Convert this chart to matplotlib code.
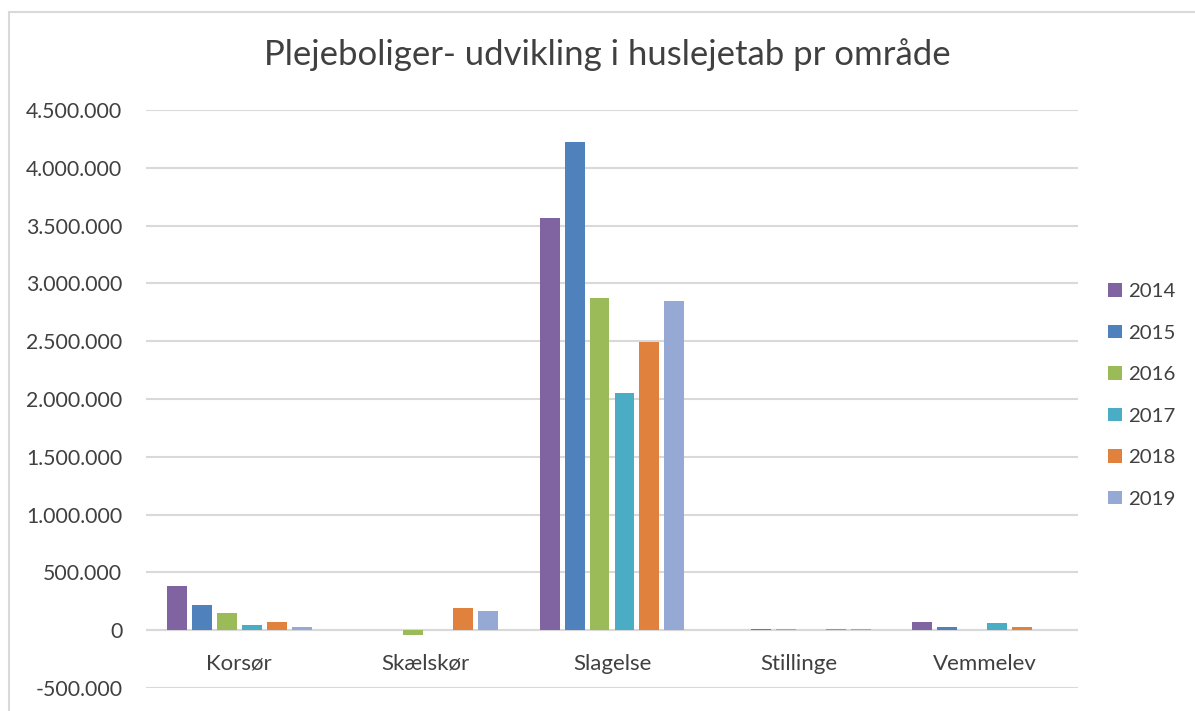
import matplotlib.pyplot as plt
from matplotlib.patches import Rectangle
from matplotlib.ticker import FuncFormatter, MultipleLocator
import numpy as np

plt.rcParams['font.family'] = ['Lato', 'DejaVu Sans']

omraader = ["Korsør", "Skælskør", "Slagelse", "Stillinge", "Vemmelev"]
aar = ["2014", "2015", "2016", "2017", "2018", "2019"]

# huslejetab pr område og år
v2014 = [380000, 0, 3565000, 0, 67000]
v2015 = [216000, 0, 4225000, 11000, 26000]
v2016 = [145000, -40000, 2870000, 10000, 0]
v2017 = [45000, 0, 2050000, 0, 60000]
v2018 = [67000, 196000, 2495000, 10000, 32000]
v2019 = [25000, 167000, 2845000, 8000, 0]
serier = [v2014, v2015, v2016, v2017, v2018, v2019]

farver = ["#8064A2", "#4F81BD", "#9BBB59", "#4BACC6", "#E0823D", "#95A9D4"]

fig = plt.figure(figsize=(11.95, 7.11), dpi=100)
ax = fig.add_axes([146 / 1195, 1 - 688 / 711, (1078 - 146) / 1195, (688 - 110) / 711])

# ramme om diagrammet
fig.patches.append(Rectangle((9 / 1195, -0.05), 1.1, 1 - 12 / 711 + 0.05,
                             transform=fig.transFigure, fill=False,
                             edgecolor="#d9d9d9", lw=1.5))

x = np.arange(len(omraader))
bredde = 0.107
afstand = 0.134
for j, (navn, vals) in enumerate(zip(aar, serier)):
    ax.bar(x + (j - 2.5) * afstand, vals, bredde, color=farver[j], label=navn,
           edgecolor="none", zorder=3)

ax.set_xlim(-0.5, 4.5)
ax.set_ylim(-500000, 4500000)
ax.yaxis.set_major_locator(MultipleLocator(500000))
ax.yaxis.set_major_formatter(FuncFormatter(lambda v, p: f"{int(v):,}".replace(",", ".")))
ax.grid(axis="y", color="#d9d9d9", lw=1.5, zorder=0)
ax.axhline(0, color="#d9d9d9", lw=1.5, zorder=1)
for s in ax.spines.values():
    s.set_visible(False)
ax.set_xticks([])
ax.tick_params(axis="y", length=0, pad=17, labelsize=15.3, labelcolor="#404040")

for i, navn in enumerate(omraader):
    ax.annotate(navn, xy=(i, 0), xytext=(0, -24), textcoords="offset points",
                ha="center", va="center", fontsize=16, color="#404040")

fig.text(607 / 1195, 1 - 55 / 711, "Plejeboliger- udvikling i huslejetab pr område",
         ha="center", va="center", fontsize=25, color="#404040")

leg = ax.legend(loc="center left", bbox_to_anchor=(1.013, 0.506), frameon=False,
                fontsize=14.7, labelcolor="#404040", handlelength=0.65, handleheight=0.65,
                handletextpad=0.3, labelspacing=1.2)

fig.savefig("out.png", dpi=100)
